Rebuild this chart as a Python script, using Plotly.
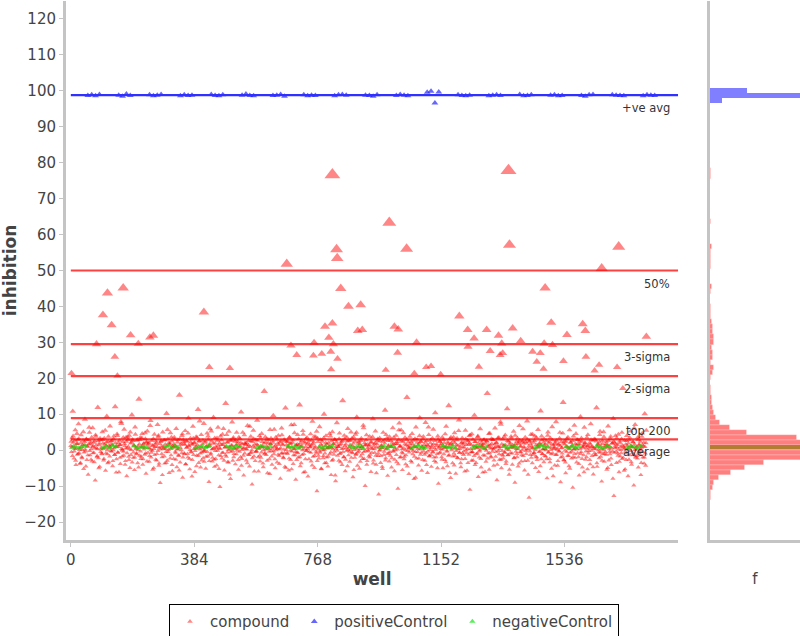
import numpy as np
import plotly.graph_objects as go

# compound inhibition (%), even wells
compound_even_text = """
1.2 -0.5 3.4 10.8 2.1 -2.3 0.4 5.6 -4.1 1.8 -1.2 2.9 7.3 -0.8 0.6 -3.5
4.2 -1.9 0.1 2.7 -5.2 1.5 8.6 -0.3 3.1 -2.7 0.9 -6.8 1.7 4.9 -1.4 2.2
0.3 -3.1 6.2 1.1 -0.7 2.5 -8.4 3.8 0.5 -1.6 11.9 -2.2 1.4 -4.6 2.8 0.2
-0.9 5.1 1.9 -2.8 3.3 0.7 -5.7 1.3 9.4 -1.1 2.4 -3.3 0.8 6.7 -0.2 1.6
2.6 -4.4 0.0 3.9 -1.3 12.1 1.0 -2.5 4.5 -0.6 2.0 -6.1 1.5 -3.8 7.9 0.4
-1.7 2.3 -0.4 5.8 1.2 -3.0 3.6 -7.2 0.6 2.9 -1.8 4.1 -4.9 1.9 0.1 9.8
3.0 -2.1 1.4 -5.5 6.4 0.3 -0.9 2.7 -3.6 1.1 14.2 -1.5 3.5 -2.4 0.8 4.6
-4.0 1.7 0.2 -1.2 3.2 -6.5 2.1 5.3 -0.7 1.8 -3.2 0.5 8.2 -2.0 2.6 -0.1
1.3 -5.0 4.4 0.9 -2.6 2.0 -1.0 7.1 3.7 -4.3 0.6 -9.1 2.3 1.0 -1.9 5.0
0.4 2.8 -3.7 1.6 -0.5 10.2 -2.9 3.1 0.1 -6.3 1.9 4.8 -1.4 2.5 -5.8 0.7
-2.4 3.6 1.2 -0.8 6.0 -4.7 2.2 0.3 -1.6 15.3 -3.4 1.5 0.0 4.0 -7.6 2.9
1.8 -1.1 5.4 -3.9 0.7 2.4 -2.0 8.9 1.1 -5.3 3.3 -0.4 1.6 -2.7 6.6 -1.3
2.0 -6.0 0.5 3.7 -1.5 1.4 11.3 -3.5 2.6 0.2 -4.8 4.3 -0.6 1.7 -2.2 7.4
-0.3 2.1 -5.1 0.9 4.7 -1.7 3.0 -8.8 1.3 5.9 -0.9 2.5 -3.1 0.4 9.1 -2.6
3.4 -0.2 1.0 -4.2 2.7 6.3 -1.4 0.6 -10.2 3.9 1.5 -2.3 4.4 -0.7 1.9 -5.6
0.8 13.0 -1.8 2.2 -3.3 0.1 5.2 -6.7 2.8 -0.5 1.2 7.8 -2.9 3.5 -1.0 0.3
-3.9 1.4 4.9 -0.1 2.3 -5.4 0.8 3.2 -1.9 10.6 -2.4 1.7 0.5 -7.0 4.2 2.0
1.5 -2.8 0.2 6.8 -1.2 2.6 -4.5 1.0 3.8 -0.6 -9.5 2.4 5.5 -1.7 0.7 -3.0
2.9 -0.4 8.3 1.3 -5.9 0.6 -1.5 3.4 -2.1 4.6 1.1 -3.7 0.0 16.4 -0.8 2.2
-1.3 3.1 -6.4 2.0 0.4 -2.5 5.7 1.6 -0.2 -4.0 2.7 9.6 -1.1 0.9 -5.0 3.6
0.6 -3.4 1.9 4.1 -1.6 0.2 -7.9 2.5 6.1 -0.9 1.4 -2.2 3.0 -4.6 11.7 0.1
2.3 -1.0 0.7 -5.6 3.5 1.8 -2.7 7.0 -0.3 2.1 -3.8 0.4 4.8 -1.4 -8.2 1.2
-0.6 4.3 -2.0 1.5 12.6 -4.4 0.9 2.6 -1.3 5.4 -6.2 0.3 1.9 -2.5 3.2 -0.1
1.7 -7.3 2.8 -0.5 0.8 4.5 -3.1 1.3 8.0 -1.8 2.2 -4.9 0.6 3.7 -0.9 -11.4
3.3 0.2 -2.3 6.5 -0.7 1.6 -5.3 2.4 0.0 -1.6 10.0 -3.6 1.1 4.0 -2.0 0.5
-4.5 2.0 1.0 -1.1 3.9 -6.9 0.7 5.1 -2.6 1.8 -0.4 2.9 -8.6 0.3 7.6 -1.5
0.9 -2.9 4.7 1.4 -0.8 2.3 -4.1 13.8 0.5 -1.9 3.1 -5.8 1.6 -0.2 2.5 6.0
-1.4 0.8 -3.2 2.7 5.0 -0.6 1.2 -7.5 3.6 0.1 -2.1 4.4 -1.0 9.2 -4.3 1.9
2.4 -5.1 0.3 -1.7 3.3 1.0 -2.4 6.9 -0.5 2.0 -9.9 1.5 4.2 -3.0 0.6 -0.3
1.1 3.8 -1.2 -6.0 2.2 0.4 8.7 -2.8 1.7 -0.7 5.3 -4.0 0.8 2.6 -1.6 -12.3
-0.1 2.5 -3.5 1.2 0.6 -5.2 4.9 -1.3 2.8 11.1 -2.2 0.2 3.4 -7.1 1.3 -0.9
3.7 -1.5 0.9 -4.8 2.1 6.2 -0.4 1.6 -2.6 0.0 4.1 -3.3 1.8 -10.7 2.9 7.5
-2.0 1.0 5.6 -0.6 -5.5 2.4 0.5 -1.8 3.5 -3.9 1.4 14.7 -0.2 2.2 -6.6 0.7
1.6 -3.0 0.2 4.6 -1.1 2.7 -8.0 1.0 -0.5 6.4 -2.3 3.0 0.4 -4.2 1.9 9.0
-1.2 2.3 -5.7 0.8 3.1 -0.3 1.5 -2.9 7.7 -0.8 2.6 -6.3 1.2 4.3 -1.7 0.1
2.8 -4.6 1.3 -0.4 5.8 -2.0 0.6 10.4 -3.4 1.7 -1.0 3.9 -9.3 0.9 2.4 -0.6
0.3 -1.9 3.6 -5.0 1.1 2.0 -2.7 0.7 6.6 -0.1 -4.4 1.8 12.4 -1.4 3.2 -7.7
1.9 0.5 -3.6 2.5 -0.9 4.8 -1.6 -6.5 1.4 3.3 -2.2 0.2 8.4 -0.7 1.0 -4.7
-2.5 3.4 0.8 -1.3 2.1 -5.9 5.5 0.0 -0.8 2.7 -3.5 1.6 4.0 -11.0 0.4 1.5
4.5 -0.5 -2.8 1.2 9.7 -4.1 2.3 -1.1 0.6 3.7 -7.4 1.0 -0.3 5.9 -2.4 2.0
0.7 -6.2 1.7 3.0 -1.5 0.3 -3.2 2.6 15.8 -0.9 1.3 -5.4 4.7 0.5 -2.0 1.8
-0.4 2.9 -4.3 0.6 6.1 -1.8 2.0 -8.3 1.1 -0.2 3.5 -2.6 0.9 7.2 -5.0 -1.2
3.1 -2.3 1.4 -0.6 4.2 -3.8 0.2 11.5 -1.4 2.4 -6.8 1.5 -0.8 3.8 0.8 -4.0
1.0 5.2 -2.1 -9.0 1.7 0.4 -1.0 3.3 -4.5 2.2 6.8 -0.5 1.2 -3.1 0.0 2.7
-1.6 0.9 -5.6 3.6 -0.2 1.9 8.1 -2.9 0.3 -13.2 2.5 -1.3 4.4 1.1 -3.6 0.6
2.1 -0.7 3.9 -4.9 1.5 -2.0 0.8 5.7 -6.0 1.6 -0.3 10.9 -2.5 2.8 -1.1 0.2
-3.3 1.3 0.4 -1.7 2.6 -7.8 4.1 -0.6 1.9 -2.4 3.4 0.1 -5.1 6.5 -0.9 1.4
0.9 -4.2 2.2 7.9 -1.2 0.5 -3.0 1.7 -0.4 4.9 -8.9 2.3 0.7 -1.8 13.3 -2.7
2.5 -0.1 -6.4 1.0 3.2 -1.5 0.6 -4.4 5.6 -0.7 2.1 -2.3 1.3 -10.4 3.9 0.3
-1.0 1.8 4.6 -3.4 0.2 2.9 -1.9 -7.0 1.6 9.3 -0.5 2.4 -4.8 0.8 -1.4 6.3
1.4 -2.6 0.5 3.5 -5.3 1.2 -0.2 2.0 -3.9 7.3 0.9 -1.6 2.7 -6.7 0.4 -0.8
3.0 -1.3 11.8 -4.6 1.7 0.0 -2.2 4.3 -0.6 1.1 -8.7 2.6 -1.0 5.1 -3.2 0.7
-0.5 2.3 -5.4 1.5 6.7 -2.8 0.3 -1.1 3.8 -4.1 1.9 -0.3 8.8 -12.7 2.1 0.6
1.7 -3.5 0.8 -0.9 4.4 -6.1 2.5 -1.7 0.1 3.1 -2.4 17.2 1.0 -5.7 0.5 -0.4
-2.7 4.0 1.2 -7.2 0.6 2.8 -1.4 5.3 -3.3 0.9 -0.7 2.2 -9.8 1.6 7.1 -2.1
0.2 -1.6 3.5 -4.8 1.3 -0.2 2.4 -6.9 0.7 4.7 -2.0 1.1 -3.7 10.1 -0.9 2.0
"""

# compound inhibition (%), odd wells
compound_odd_text = """
2.4 0.8 -1.6 3.9 1.1 -0.3 2.7 -2.9 0.5 4.6 1.8 -1.0 3.2 0.1 -3.8 2.0
0.9 -2.2 1.5 5.1 -0.6 2.3 0.2 -4.5 3.0 1.2 -1.4 2.8 6.3 -0.2 1.7 -2.6
3.6 1.0 -0.8 2.1 -3.3 0.6 4.2 1.4 -1.9 0.3 2.6 -5.0 1.9 3.3 -0.5 0.7
-1.1 2.9 0.4 -2.4 1.6 5.5 -0.9 2.2 0.0 -3.6 3.8 1.3 -1.7 0.8 2.5 -0.4
1.4 -3.0 3.1 0.6 -1.2 2.0 -6.2 1.1 4.0 -0.7 0.9 2.7 -2.1 1.5 7.4 -0.1
0.2 3.5 -1.5 1.8 -4.0 0.5 2.4 -0.8 3.7 1.0 -2.7 0.3 5.0 -1.3 2.2 -3.4
2.6 -0.6 1.2 -2.0 4.4 0.8 -1.1 3.0 0.1 -4.8 1.7 2.9 -0.3 -1.8 3.4 1.1
-2.5 1.9 0.7 4.8 -0.9 2.3 -3.1 1.4 0.6 2.1 -1.6 6.8 0.0 -0.7 1.3 -5.4
3.2 0.4 -1.3 1.6 2.5 -2.8 0.9 -0.2 4.1 -3.7 1.8 0.2 2.6 -1.0 -6.9 1.0
0.6 -1.7 2.8 0.3 -3.5 1.1 5.7 -0.5 2.0 1.5 -2.3 0.4 3.6 -4.1 1.2 0.9
1.7 3.0 -0.4 -2.6 1.0 0.2 2.9 -1.4 -5.6 3.1 0.7 1.9 -0.8 4.5 -2.0 2.3
-0.9 1.5 -3.9 2.6 0.8 -1.0 4.7 1.3 -2.4 0.1 2.2 -0.6 -7.3 1.6 3.3 0.4
2.1 -0.2 1.1 -4.4 3.5 0.6 -1.5 2.4 8.1 -0.9 1.0 -2.8 0.5 2.7 -0.3 -3.2
0.0 2.5 -1.8 1.2 -0.5 3.9 0.9 -3.0 1.6 -1.2 5.3 0.2 -2.1 1.9 0.6 -4.6
1.9 -2.4 0.6 3.4 -0.1 1.3 -5.2 2.0 0.4 -1.6 2.8 -0.7 1.5 6.0 -2.9 0.8
-1.4 0.9 4.3 -0.6 2.2 -3.4 1.0 0.3 -8.0 2.6 1.4 -0.2 3.1 -1.9 0.7 2.4
2.8 -1.1 0.5 1.7 -2.7 3.6 -0.4 1.2 2.0 -4.3 0.1 4.9 -1.5 0.6 -0.9 1.8
0.3 2.0 -3.6 0.9 1.4 -1.3 6.6 -0.8 2.5 0.0 -2.2 1.1 3.2 -5.9 1.6 -0.5
-0.2 1.6 2.7 -1.9 0.4 4.0 -3.1 1.0 -0.6 2.3 0.8 -4.7 1.9 -1.1 3.7 0.2
1.1 -2.9 0.7 2.9 -0.4 -6.6 1.8 3.3 -1.7 0.5 2.1 -0.3 5.8 -2.5 1.3 0.0
3.0 0.4 -1.2 1.5 -3.8 2.2 0.6 -0.9 4.2 1.7 -2.0 0.2 -0.8 2.6 -4.9 1.4
-0.7 2.4 1.0 -2.3 3.6 -0.1 1.9 -5.3 0.8 2.8 -1.4 7.1 0.3 -0.5 1.5 -2.7
1.6 -0.8 3.1 0.5 -1.9 2.0 -3.6 1.2 0.0 4.4 -1.0 2.3 -6.0 0.9 -0.2 3.5
0.4 2.1 -2.5 1.4 0.9 -0.7 2.7 -4.2 1.8 0.2 3.8 -1.6 1.0 -0.4 5.2 -3.0
2.3 -1.5 0.8 -0.3 2.9 -5.1 1.3 0.5 -2.2 3.4 0.1 -0.9 2.0 -3.5 1.7 0.6
-1.8 0.7 4.6 1.1 -0.6 2.5 -2.9 0.3 1.6 -1.2 3.0 -7.0 0.8 2.2 -0.1 1.4
0.9 3.2 -1.0 -3.3 1.8 0.4 2.6 -0.5 -1.9 4.1 1.2 -2.6 0.6 3.6 -4.4 0.1
2.7 -0.4 1.5 0.2 -2.1 3.3 -0.8 1.9 -5.5 0.7 2.4 -1.3 4.9 0.3 -0.6 1.0
-0.3 1.8 -3.2 2.6 0.9 -1.1 0.4 6.2 -2.4 1.3 -0.2 2.8 -4.0 1.6 0.0 -1.7
1.5 -2.0 2.2 0.6 -0.7 3.7 -3.7 1.1 0.3 2.0 -1.5 -6.4 1.7 3.1 -0.9 0.8
3.4 0.1 -1.6 1.3 -4.6 2.4 0.7 -0.4 1.9 -2.8 4.3 0.5 -1.0 2.6 1.1 -3.1
-0.5 2.7 0.9 -2.2 1.4 -0.1 3.5 -5.8 0.6 1.8 -1.3 2.3 0.2 -3.9 5.6 1.0
1.2 -1.9 2.5 0.3 -0.9 4.8 -2.5 1.6 0.0 -1.4 2.9 -4.5 1.1 0.6 -0.6 3.8
0.6 2.3 -3.4 1.7 -0.2 1.0 -1.8 3.2 -7.6 0.8 2.1 -0.5 1.4 -2.3 4.0 0.2
2.5 -0.7 1.1 -2.7 3.8 0.4 -1.2 2.2 0.9 -4.1 1.5 -0.3 6.4 -1.6 0.7 2.0
-1.3 0.8 3.3 -0.6 1.7 -3.0 2.6 0.1 -1.9 1.2 -5.0 3.0 0.5 -0.8 2.4 1.3
1.8 -2.6 0.2 2.9 -1.1 0.7 4.5 -3.3 1.0 -0.4 2.2 -1.5 0.9 -6.3 1.6 3.6
0.0 1.4 -1.7 3.6 -4.2 2.0 0.6 -0.2 2.8 -2.1 1.3 5.4 -0.7 0.4 -3.6 1.9
2.2 -0.9 1.6 -0.3 0.8 -2.4 3.1 1.5 -5.7 0.3 2.5 -1.2 1.9 4.2 -0.5 -2.9
-0.6 3.0 0.4 -1.6 2.3 1.1 -3.5 0.7 -0.9 3.9 1.8 -2.0 0.0 2.7 -4.8 1.2
1.3 -1.4 2.8 0.5 -6.0 1.9 -0.1 2.4 -2.3 0.9 4.6 -0.8 1.4 -1.7 3.2 0.6
2.9 0.2 -2.8 1.6 0.8 -0.5 2.1 -4.0 3.4 1.0 -1.1 0.3 7.8 -2.6 1.7 -0.2
-1.5 1.1 3.7 -0.7 1.4 -3.1 0.6 2.6 -1.3 0.1 -5.4 2.0 0.8 3.3 -0.9 1.5
0.7 -2.2 1.2 4.1 -0.4 2.4 -1.9 0.3 1.8 -3.7 2.7 0.9 -0.6 -1.4 2.2 5.9
1.9 0.5 -3.0 2.3 -1.0 0.2 3.0 -6.8 1.1 2.5 -0.3 1.7 -2.1 0.6 4.4 -1.2
-0.8 2.6 0.1 -1.8 3.5 -2.7 1.3 0.8 -0.5 2.0 -4.4 1.4 3.9 -1.0 0.3 2.1
3.1 -1.6 1.7 0.0 -2.5 1.0 5.0 -0.6 2.3 -3.3 0.7 -1.1 1.6 2.8 -7.2 0.4
0.5 1.8 -1.3 2.7 0.1 -4.3 1.5 -0.2 3.3 1.2 -2.0 0.6 -0.9 4.7 1.9 -2.8
1.6 -3.4 2.4 -0.5 1.0 3.6 -1.6 0.3 -5.1 2.2 0.9 -0.4 2.6 -1.9 0.2 6.9
-2.1 0.6 1.4 3.0 -0.8 1.7 -3.8 2.5 0.4 -1.0 3.4 -2.4 0.8 1.3 -6.1 2.0
2.0 -0.3 -1.9 1.1 4.3 -0.9 0.5 -2.7 1.6 2.9 -0.1 1.0 -4.7 0.7 3.1 -1.4
0.3 2.5 -3.6 0.9 1.5 -0.6 2.2 5.2 -1.8 0.4 -2.9 1.8 0.0 3.7 -1.1 1.2
1.7 -1.2 0.8 -4.9 2.6 1.1 -0.4 3.2 -2.3 0.6 1.9 -7.9 2.4 -0.7 1.0 4.0
-0.4 3.3 1.5 -1.5 0.2 -3.2 2.0 0.9 -0.8 4.9 1.3 -2.1 0.5 2.7 -5.3 1.6
2.6 -0.9 0.3 1.9 -2.6 3.5 -0.2 1.2 -4.0 0.8 2.3 -1.3 6.1 0.1 -1.7 0.7
1.0 -2.3 2.9 -0.6 1.6 -1.1 0.4 -3.5 3.8 1.4 -0.5 2.1 -2.0 0.9 -4.3 5.5
"""
even_values = [float(v) for v in compound_even_text.split()]
odd_values = [float(v) for v in compound_odd_text.split()]
even_wells = list(range(0, 2 * len(even_values), 2))
odd_wells = list(range(1, 2 * len(odd_values), 2))

# stronger hits
hit_wells = [2, 80, 100, 114, 127, 137, 145, 163, 186, 210, 246, 257, 414, 431, 495,
             672, 685, 703, 755, 757, 781, 791, 803, 809, 810, 814, 814, 817, 827, 829,
             830, 840, 864, 893, 902, 907, 980, 991, 1007, 1017, 1019, 1045, 1069, 1076,
             1106, 1121, 1151, 1209, 1235, 1236, 1255, 1270, 1294, 1305, 1331, 1336, 1341,
             1344, 1362, 1365, 1375, 1400, 1437, 1450, 1461, 1471, 1473, 1476, 1495, 1499,
             1533, 1544, 1593, 1601, 1603, 1630, 1644, 1652, 1700, 1705, 1791]
hit_values = [21.4, 29.5, 37.6, 43.7, 34.8, 26.0, 20.7, 45.1, 32.0, 29.6, 31.4, 31.9, 38.4, 23.1, 22.8,
              51.8, 29.1, 26.5, 26.3, 29.9, 26.8, 34.4, 31.3, 27.4, 22.5, 35.3, 76.6, 29.5, 55.9, 53.4,
              25.4, 45.0, 40.0, 33.2, 40.4, 33.5, 22.3, 63.3, 34.4, 27.1, 33.6, 56.0, 21.4, 30.0,
              23.1, 23.4, 21.1, 37.3, 33.5, 28.8, 31.1, 23.2, 33.5, 27.6, 31.9, 26.5, 29.7,
              27.0, 77.8, 57.1, 33.9, 30.4, 27.4, 24.6, 27.0, 22.6, 29.7, 45.1, 35.5, 29.3,
              24.8, 32.1, 35.1, 33.2, 26.0, 22.1, 23.7, 50.6, 23.1, 56.6, 31.6]

# positive controls: groups of four wells
pos_group_starts = [53, 149, 245, 341, 437, 533, 629, 725, 821, 917,
                    1013, 1109, 1205, 1301, 1397, 1493, 1589, 1685, 1781]
pos_offsets = [0, 12, 24, 36]
pos_values = [98.7, 98.9, 98.6, 99.0, 98.8, 98.5, 99.1, 98.7, 98.9, 98.6, 98.8, 99.0,
              98.6, 98.9, 98.7, 98.8, 99.0, 98.7, 98.6, 98.9, 98.8, 99.1, 98.7, 98.6,
              98.7, 98.8, 99.0, 98.5, 98.9, 98.6, 98.8, 98.7, 98.6, 98.9, 99.0, 98.8,
              98.8, 98.7, 98.5, 98.9, 98.7, 99.0, 98.8, 98.6, 99.6, 99.9, 96.6, 99.7,
              98.9, 98.7, 98.6, 98.8, 98.6, 98.8, 98.9, 98.7, 99.0, 98.6, 98.7, 98.9,
              98.8, 98.9, 98.6, 98.7, 98.7, 98.5, 98.9, 99.0, 98.9, 98.8, 98.7, 98.6,
              98.6, 98.9, 98.8, 98.7]

# negative controls: groups of five wells
neg_group_starts = [5, 101, 197, 293, 389, 485, 581, 677, 773, 869,
                    965, 1061, 1157, 1253, 1349, 1445, 1541, 1637, 1733]
neg_offsets = [0, 10, 20, 30, 40]
neg_values = [0.8, 1.1, 0.6, 0.9, 1.2, 0.7, 1.0, 0.5, 1.3, 0.9, 1.1, 0.6, 0.8, 1.0, 0.7,
              0.9, 1.2, 0.6, 1.0, 0.8, 0.5, 0.9, 1.1, 0.7, 1.3, 1.0, 0.8, 0.6, 1.2, 0.9,
              0.7, 1.1, 0.9, 0.5, 1.0, 1.2, 0.8, 1.0, 0.6, 0.9, 0.9, 0.6, 1.1, 0.8, 1.3,
              1.0, 0.7, 0.9, 1.2, 0.6, 0.8, 1.1, 0.5, 1.0, 0.9, 0.6, 1.0, 1.2, 0.8, 0.7,
              1.1, 0.9, 0.7, 1.0, 0.6, 0.8, 1.2, 1.0, 0.5, 0.9, 1.0, 0.7, 0.9, 1.1, 0.8,
              0.6, 1.0, 1.3, 0.8, 0.9, 0.9, 0.6, 1.1, 0.7, 1.0, 1.2, 0.8, 0.5, 1.0, 0.9,
              0.7, 1.1, 0.9, 0.6, 1.0]

# reference lines
ref_names = ["+ve avg", "50%", "3-sigma", "2-sigma", "top 200", "average"]
ref_values = [98.8, 50.0, 29.5, 20.6, 8.9, 3.0]
ref_colors = ["#3030ff", "rgba(255,0,0,0.75)", "rgba(255,0,0,0.75)",
              "rgba(255,0,0,0.75)", "rgba(255,0,0,0.75)", "rgba(255,0,0,0.75)"]

x_ticks = [0, 384, 768, 1152, 1536]

FONT = "DejaVu Sans"
AXIS_GRAY = "#c4c4c4"
TEXT = "#444444"

compound_wells = even_wells + odd_wells + hit_wells
compound_values = even_values + odd_values + hit_values
compound_sizes = [4.6 + 0.12 * max(v, 0) for v in compound_values]

pos_wells = [s + o for s in pos_group_starts for o in pos_offsets]
neg_wells = [s + o for s in neg_group_starts for o in neg_offsets]

# frequency axis: the tallest compound bins run off the panel edge, as do the controls
bin_edges = np.arange(-14.0, 126.01, 1.4)
counts, _ = np.histogram(compound_values, bins=bin_edges)
f_max = counts.max() / len(compound_values) * 0.45

fig = go.Figure()
fig.add_trace(go.Scatter(x=compound_wells, y=compound_values, mode="markers", name="compound",
                         marker=dict(symbol="triangle-up", size=compound_sizes,
                                     color="rgba(255,0,0,0.68)", line=dict(width=0))))
fig.add_trace(go.Scatter(x=pos_wells, y=pos_values, mode="markers", name="positiveControl",
                         marker=dict(symbol="triangle-up", size=6,
                                     color="rgba(0,0,255,0.6)", line=dict(width=0))))
fig.add_trace(go.Scatter(x=neg_wells, y=neg_values, mode="markers", name="negativeControl",
                         marker=dict(symbol="triangle-up", size=5.5,
                                     color="rgba(0,230,0,0.65)", line=dict(width=0))))

# marginal frequency histograms, each normalised on its own
fig.add_trace(go.Histogram(y=compound_values, xaxis="x2", yaxis="y2", showlegend=False,
                           histnorm="probability",
                           ybins=dict(start=-14.0, end=126, size=1.4),
                           marker=dict(color="rgba(255,0,0,0.5)",
                                       line=dict(color="rgba(255,255,255,0.5)", width=0.4))))
fig.add_trace(go.Histogram(y=pos_values, xaxis="x2", yaxis="y2", showlegend=False,
                           histnorm="probability",
                           ybins=dict(start=95.2, end=101.8, size=1.4),
                           marker=dict(color="rgba(0,0,255,0.5)", line=dict(width=0))))
fig.add_trace(go.Histogram(y=neg_values, xaxis="x2", yaxis="y2", showlegend=False,
                           histnorm="probability",
                           ybins=dict(start=0.3, end=1.4, size=1.1),
                           marker=dict(color="rgba(170,125,40,0.9)", line=dict(width=0))))

for name, val, col in zip(ref_names, ref_values, ref_colors):
    fig.add_shape(type="line", xref="x", yref="y", x0=0, x1=1890, y0=val, y1=val,
                  line=dict(color=col, width=2.2))
    fig.add_annotation(x=1872, y=val, xref="x", yref="y", text=name, showarrow=False,
                       xanchor="right", yanchor="top", yshift=-4,
                       font=dict(family=FONT, size=11.5, color="#333333"))

axis_style = dict(showline=True, linecolor=AXIS_GRAY, linewidth=3, showgrid=False,
                  zeroline=False, ticks="outside", ticklen=4, tickcolor=AXIS_GRAY,
                  automargin=False, tickfont=dict(family=FONT, size=15, color=TEXT))

fig.update_layout(
    width=800, height=636,
    margin=dict(l=66, r=0, t=1, b=96),
    paper_bgcolor="white", plot_bgcolor="white",
    barmode="overlay", bargap=0,
    font=dict(family=FONT, color=TEXT),
    xaxis=dict(domain=[0, 0.834], range=[-15, 1890], tickvals=x_ticks,
               title=dict(text="<b>well</b>", standoff=6,
                          font=dict(family=FONT, size=17, color=TEXT)),
               **axis_style),
    yaxis=dict(range=[-25, 125], dtick=10,
               title=dict(text="<b>inhibition</b>", font=dict(family=FONT, size=17, color=TEXT)),
               **axis_style),
    xaxis2=dict(domain=[0.877, 1], anchor="y2", range=[0, f_max], automargin=False,
                showline=True, linecolor=AXIS_GRAY, linewidth=3,
                showgrid=False, zeroline=False, showticklabels=False, ticks="",
                title=dict(text="f", standoff=32, font=dict(family=FONT, size=15, color=TEXT))),
    yaxis2=dict(matches="y", anchor="x2", showline=True, linecolor=AXIS_GRAY, linewidth=3,
                automargin=False, showgrid=False, zeroline=False, showticklabels=False,
                ticks=""),
    legend=dict(orientation="h", xref="container", yref="container", x=0.4925, y=0.05,
                xanchor="center", yanchor="top", bordercolor="black", borderwidth=1,
                itemwidth=30, bgcolor="white", font=dict(family=FONT, size=15, color=TEXT)),
)

fig.write_html("out.html", config={"displayModeBar": False},
               post_script="document.body.style.margin='0px';")
